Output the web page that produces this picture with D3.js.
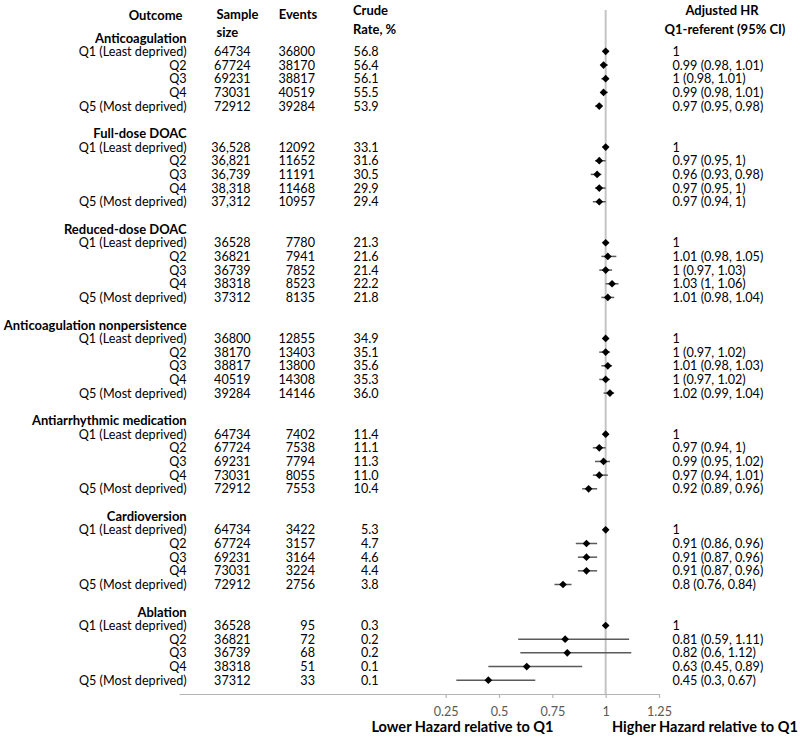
<!DOCTYPE html>
<html>
<head>
<meta charset="utf-8">
<script src="https://cdn.jsdelivr.net/npm/d3@7"></script>
<style>
  html, body { margin: 0; padding: 0; background: #fff; }
  svg { display: block; }
  text { font-family: Lato, "Open Sans", "Noto Sans", sans-serif; fill: #000; }
</style>
</head>
<body>
<svg id="chart" width="800" height="737"></svg>
<script>
// ---------------- DATA ----------------
const groups = ["Anticoagulation", "Full-dose DOAC", "Reduced-dose DOAC",
  "Anticoagulation nonpersistence", "Antiarrhythmic medication", "Cardioversion", "Ablation"];
const quintiles = ["Q1 (Least deprived)", "Q2", "Q3", "Q4", "Q5 (Most deprived)"];

const sampleSize = [
  ["64734", "67724", "69231", "73031", "72912"],
  ["36,528", "36,821", "36,739", "38,318", "37,312"],
  ["36528", "36821", "36739", "38318", "37312"],
  ["36800", "38170", "38817", "40519", "39284"],
  ["64734", "67724", "69231", "73031", "72912"],
  ["64734", "67724", "69231", "73031", "72912"],
  ["36528", "36821", "36739", "38318", "37312"]
];
const events = [
  ["36800", "38170", "38817", "40519", "39284"],
  ["12092", "11652", "11191", "11468", "10957"],
  ["7780", "7941", "7852", "8523", "8135"],
  ["12855", "13403", "13800", "14308", "14146"],
  ["7402", "7538", "7794", "8055", "7553"],
  ["3422", "3157", "3164", "3224", "2756"],
  ["95", "72", "68", "51", "33"]
];
const crudeRate = [
  ["56.8", "56.4", "56.1", "55.5", "53.9"],
  ["33.1", "31.6", "30.5", "29.9", "29.4"],
  ["21.3", "21.6", "21.4", "22.2", "21.8"],
  ["34.9", "35.1", "35.6", "35.3", "36.0"],
  ["11.4", "11.1", "11.3", "11.0", "10.4"],
  ["5.3", "4.7", "4.6", "4.4", "3.8"],
  ["0.3", "0.2", "0.2", "0.1", "0.1"]
];
const hr = [
  [1, 0.99, 1, 0.99, 0.97],
  [1, 0.97, 0.96, 0.97, 0.97],
  [1, 1.01, 1, 1.03, 1.01],
  [1, 1, 1.01, 1, 1.02],
  [1, 0.97, 0.99, 0.97, 0.92],
  [1, 0.91, 0.91, 0.91, 0.8],
  [1, 0.81, 0.82, 0.63, 0.45]
];
const hrLower = [
  [null, 0.98, 0.98, 0.98, 0.95],
  [null, 0.95, 0.93, 0.95, 0.94],
  [null, 0.98, 0.97, 1, 0.98],
  [null, 0.97, 0.98, 0.97, 0.99],
  [null, 0.94, 0.95, 0.94, 0.89],
  [null, 0.86, 0.87, 0.87, 0.76],
  [null, 0.59, 0.6, 0.45, 0.3]
];
const hrUpper = [
  [null, 1.01, 1.01, 1.01, 0.98],
  [null, 1, 0.98, 1, 1],
  [null, 1.05, 1.03, 1.06, 1.04],
  [null, 1.02, 1.03, 1.02, 1.04],
  [null, 1, 1.02, 1.01, 0.96],
  [null, 0.96, 0.96, 0.96, 0.84],
  [null, 1.11, 1.12, 0.89, 0.67]
];
const hrLabels = [
  ["1", "0.99 (0.98, 1.01)", "1 (0.98, 1.01)", "0.99 (0.98, 1.01)", "0.97 (0.95, 0.98)"],
  ["1", "0.97 (0.95, 1)", "0.96 (0.93, 0.98)", "0.97 (0.95, 1)", "0.97 (0.94, 1)"],
  ["1", "1.01 (0.98, 1.05)", "1 (0.97, 1.03)", "1.03 (1, 1.06)", "1.01 (0.98, 1.04)"],
  ["1", "1 (0.97, 1.02)", "1.01 (0.98, 1.03)", "1 (0.97, 1.02)", "1.02 (0.99, 1.04)"],
  ["1", "0.97 (0.94, 1)", "0.99 (0.95, 1.02)", "0.97 (0.94, 1.01)", "0.92 (0.89, 0.96)"],
  ["1", "0.91 (0.86, 0.96)", "0.91 (0.87, 0.96)", "0.91 (0.87, 0.96)", "0.8 (0.76, 0.84)"],
  ["1", "0.81 (0.59, 1.11)", "0.82 (0.6, 1.12)", "0.63 (0.45, 0.89)", "0.45 (0.3, 0.67)"]
];
const axisTicks = [0.25, 0.5, 0.75, 1, 1.25];
const columnHeaders = { outcome: "Outcome", sample: ["Sample", "size"], events: "Events",
  rate: ["Crude", "Rate, %"], hr: ["Adjusted HR", "Q1-referent (95% CI)"] };
const bottomLabels = ["Lower Hazard relative to Q1", "Higher Hazard relative to Q1"];

// ---------------- LAYOUT ----------------
const svg = d3.select("#chart");

// fit font sizes to the reference text widths, measured at the working size
function fitSize(str, weight, target) {
  let s = 13;
  const t = svg.append("text").attr("font-weight", weight).text(str);
  for (let k = 0; k < 4; k++) {
    t.attr("font-size", s);
    const w = t.node().getBBox().width;
    s = s * target / w;
  }
  t.remove();
  return s;
}
const fsNormal = fitSize("Q1 (Least deprived)", "normal", 108);
const fsBold = fitSize("Anticoagulation nonpersistence", "bold", 184);
const fsBottom = fitSize("Lower Hazard relative to Q1", "bold", 182);

const x = d3.scaleLinear().domain([-1, 1.25]).range([179, 659]);
const rowsPerGroup = 7;
const y = d3.scaleLinear().domain([0, 48]).range([37.7, 37.7 + 48 * 13.67]);

const xOutcome = 186.7, xSample = 250.7, xEvents = 315, xRate = 378.5, xHR = 672.5;
const axisY = 694;

// reference line at HR = 1
svg.append("line")
  .attr("x1", x(1)).attr("x2", x(1))
  .attr("y1", 10).attr("y2", axisY)
  .attr("stroke", "#c4c4c4").attr("stroke-width", 2);

// headers
const hdr = svg.append("g").attr("font-weight", "bold").attr("font-size", fsBold);
hdr.append("text").attr("x", 182.5).attr("y", 15).attr("text-anchor", "end")
  .attr("dominant-baseline", "central").text(columnHeaders.outcome);
hdr.append("text").attr("x", 216.5).attr("y", 13.5).attr("dominant-baseline", "central").text(columnHeaders.sample[0]);
hdr.append("text").attr("x", 216.5).attr("y", 32).attr("dominant-baseline", "central").text(columnHeaders.sample[1]);
hdr.append("text").attr("x", 278.7).attr("y", 13.5).attr("dominant-baseline", "central").text(columnHeaders.events);
hdr.append("text").attr("x", 353).attr("y", 10).attr("dominant-baseline", "central").text(columnHeaders.rate[0]);
hdr.append("text").attr("x", 353).attr("y", 29).attr("dominant-baseline", "central").text(columnHeaders.rate[1]);
hdr.append("text").attr("x", 722).attr("y", 10).attr("text-anchor", "middle").attr("dominant-baseline", "central").text(columnHeaders.hr[0]);
hdr.append("text").attr("x", 725).attr("y", 29).attr("text-anchor", "middle").attr("dominant-baseline", "central").text(columnHeaders.hr[1]);

// rows
groups.forEach((g, gi) => {
  const base = gi * rowsPerGroup;
  svg.append("text").attr("x", xOutcome).attr("y", y(base))
    .attr("text-anchor", "end").attr("dominant-baseline", "central")
    .attr("font-weight", "bold").attr("font-size", fsBold).text(g);

  quintiles.forEach((q, qi) => {
    const yy = y(base + 1 + qi);
    const row = svg.append("g").attr("font-size", fsNormal);
    row.append("text").attr("x", xOutcome).attr("y", yy).attr("text-anchor", "end")
      .attr("dominant-baseline", "central").text(q);
    row.append("text").attr("x", xSample).attr("y", yy).attr("text-anchor", "end")
      .attr("dominant-baseline", "central").text(sampleSize[gi][qi]);
    row.append("text").attr("x", xEvents).attr("y", yy).attr("text-anchor", "end")
      .attr("dominant-baseline", "central").text(events[gi][qi]);
    row.append("text").attr("x", xRate).attr("y", yy).attr("text-anchor", "end")
      .attr("dominant-baseline", "central").text(crudeRate[gi][qi]);
    row.append("text").attr("x", xHR).attr("y", yy)
      .attr("dominant-baseline", "central").text(hrLabels[gi][qi]);

    if (hrLower[gi][qi] != null) {
      svg.append("line")
        .attr("x1", x(hrLower[gi][qi])).attr("x2", x(hrUpper[gi][qi]))
        .attr("y1", yy).attr("y2", yy)
        .attr("stroke", "#5a5a5a").attr("stroke-width", 1.5);
    }
    svg.append("path")
      .attr("d", d3.symbol().type(d3.symbolDiamond2).size(38)())
      .attr("transform", `translate(${x(hr[gi][qi])},${yy})`)
      .attr("fill", "#000");
  });
});

// axis
const axis = d3.axisBottom(x).tickValues(axisTicks).tickSize(4).tickSizeOuter(0)
  .tickFormat(d => String(d));
const ax = svg.append("g").attr("transform", `translate(0,${axisY})`).call(axis);
ax.select(".domain").attr("stroke", "#b4b4b4").attr("stroke-width", 1.2);
ax.selectAll(".tick line").attr("stroke", "#b4b4b4").attr("stroke-width", 1.2);
ax.selectAll(".tick text")
  .attr("y", 17.7).attr("dy", null).attr("dominant-baseline", "central")
  .attr("font-size", fsNormal)
  .style("font-family", "Lato, 'Open Sans', sans-serif")
  .style("fill", "#595959");

// bottom labels
svg.append("text").attr("x", 462.5).attr("y", 732).attr("text-anchor", "middle")
  .attr("font-weight", "bold").attr("font-size", fsBottom)
  .text(bottomLabels[0]);
svg.append("text").attr("x", 612).attr("y", 732)
  .attr("font-weight", "bold").attr("font-size", fsBottom)
  .text(bottomLabels[1]);
</script>
</body>
</html>
